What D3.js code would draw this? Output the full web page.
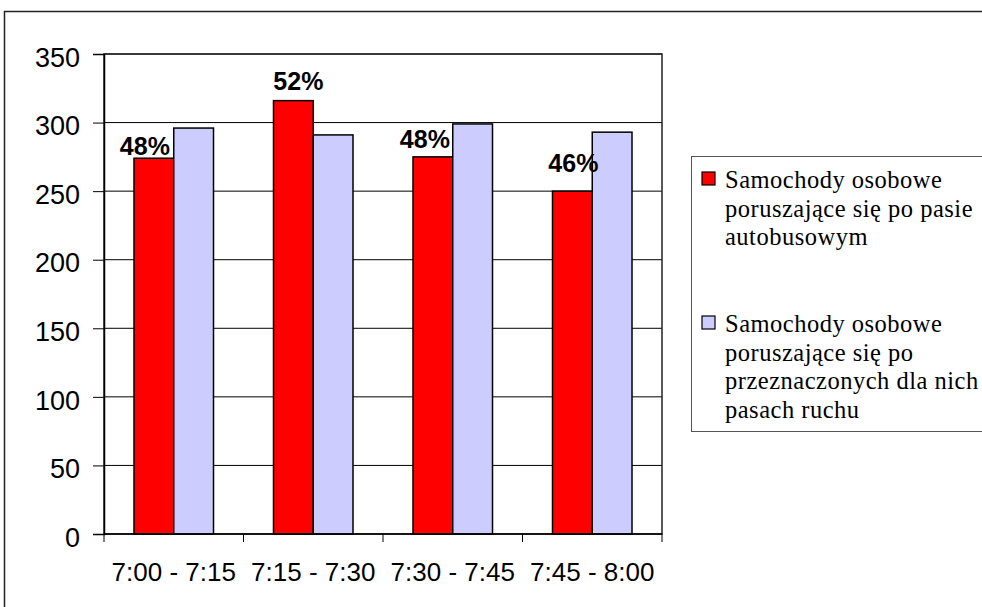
<!DOCTYPE html>
<html>
<head>
<meta charset="utf-8">
<script src="https://cdn.jsdelivr.net/npm/d3@7"></script>
<style>
  body { margin: 0; background: #fff; }
  svg { display: block; }
</style>
</head>
<body>
<div id="chart"></div>
<script>
/* DATA */
const categories = ["7:00 - 7:15", "7:15 - 7:30", "7:30 - 7:45", "7:45 - 8:00"];
const busLane = [274, 316, 275, 250];      // cars on the bus lane
const ownLanes = [296, 291, 299, 293];     // cars on their own lanes
const yTicks = [0, 50, 100, 150, 200, 250, 300, 350];
const seriesNames = [
  ["Samochody osobowe", "poruszające się po pasie", "autobusowym"],
  ["Samochody osobowe", "poruszające się po", "przeznaczonych dla nich", "pasach ruchu"]
];

/* LAYOUT */
const width = 982,
  height = 607,
  plot = { left: 104, right: 662, top: 54, bottom: 534 },
  colors = ["#ff0000", "#ccccff"];

// hand nudges for the percent labels (Excel moved them around)
const labelShift = [[-9, -3], [5, -11], [-8, -9], [1, -19]];

const svg = d3.select("#chart")
  .append("svg")
  .attr("width", width)
  .attr("height", height);

// outer chart border
svg.append("rect")
  .attr("x", 4.5).attr("y", 11.5)
  .attr("width", 1000).attr("height", 700)
  .attr("fill", "#fff")
  .attr("stroke", "#222")
  .attr("stroke-width", 1.5);

const xScale = d3.scaleBand()
  .domain(categories)
  .range([plot.left, plot.right])
  .paddingInner(0.43)
  .paddingOuter(0.215);

const xSub = d3.scaleBand()
  .domain([0, 1])
  .range([0, xScale.bandwidth()]);

const yScale = d3.scaleLinear()
  .domain([0, 350])
  .range([plot.bottom, plot.top]);

// gridlines
svg.append("g")
  .selectAll("line")
  .data(yTicks.slice(1))
  .join("line")
  .attr("x1", plot.left).attr("x2", plot.right)
  .attr("y1", d => yScale(d)).attr("y2", d => yScale(d))
  .attr("stroke", "#000")
  .attr("stroke-width", 1);

// plot area frame
svg.append("rect")
  .attr("x", plot.left).attr("y", plot.top)
  .attr("width", plot.right - plot.left)
  .attr("height", plot.bottom - plot.top)
  .attr("fill", "none")
  .attr("stroke", "#222")
  .attr("stroke-width", 1.5);

// y axis
const yAxis = d3.axisLeft(yScale)
  .tickValues(yTicks)
  .tickSize(11)
  .tickPadding(13);

svg.append("g")
  .attr("class", "y-axis")
  .attr("transform", `translate(${plot.left},0)`)
  .call(yAxis)
  .call(g => g.select(".domain").attr("stroke", "#000").attr("stroke-width", 1.5))
  .call(g => g.selectAll(".tick line").attr("stroke", "#000"))
  .call(g => g.selectAll("text")
    .attr("font-family", "Liberation Sans, Arial, sans-serif")
    .attr("font-size", 27)
    .attr("fill", "#000")
    .attr("dy", "0.45em"));

// bars
const groups = svg.append("g")
  .selectAll("g")
  .data(categories.map((c, i) => ({ cat: c, values: [busLane[i], ownLanes[i]] })))
  .join("g")
  .attr("transform", d => `translate(${xScale(d.cat)},0)`);

groups.selectAll("rect")
  .data(d => d.values.map((v, j) => ({ v, j })))
  .join("rect")
  .attr("x", d => xSub(d.j))
  .attr("y", d => yScale(d.v))
  .attr("width", xSub.bandwidth())
  .attr("height", d => yScale(0) - yScale(d.v))
  .attr("fill", d => colors[d.j])
  .attr("stroke", "#000")
  .attr("stroke-width", 1.5);

// x axis
const catEdges = categories.map(c => xScale(c) - xScale.step() * xScale.paddingOuter())
  .concat([plot.right]);

svg.append("line")
  .attr("x1", plot.left).attr("x2", plot.right)
  .attr("y1", plot.bottom).attr("y2", plot.bottom)
  .attr("stroke", "#000")
  .attr("stroke-width", 1.5);

svg.append("g")
  .selectAll("line")
  .data(catEdges)
  .join("line")
  .attr("x1", d => d).attr("x2", d => d)
  .attr("y1", plot.bottom).attr("y2", plot.bottom + 8)
  .attr("stroke", "#000");

svg.append("g")
  .selectAll("text")
  .data(categories)
  .join("text")
  .attr("x", d => xScale(d) + xScale.bandwidth() / 2)
  .attr("y", 581)
  .attr("text-anchor", "middle")
  .attr("font-family", "Liberation Sans, Arial, sans-serif")
  .attr("font-size", 26)
  .attr("fill", "#000")
  .text(d => d);

// percent share of bus-lane cars
const formatPercent = d3.format(".0%");
svg.append("g")
  .selectAll("text")
  .data(categories)
  .join("text")
  .attr("x", (d, i) => xScale(d) + xSub(0) + xSub.bandwidth() / 2 + labelShift[i][0])
  .attr("y", (d, i) => yScale(busLane[i]) + labelShift[i][1])
  .attr("text-anchor", "middle")
  .attr("font-family", "Liberation Sans, Arial, sans-serif")
  .attr("font-weight", "bold")
  .attr("font-size", 25)
  .attr("fill", "#000")
  .text((d, i) => formatPercent(busLane[i] / (busLane[i] + ownLanes[i])));

// legend
const legend = svg.append("g");
legend.append("rect")
  .attr("x", 691.5).attr("y", 156.5)
  .attr("width", 400).attr("height", 275)
  .attr("fill", "#fff")
  .attr("stroke", "#555")
  .attr("stroke-width", 1);

const legendTop = [188, 332];
seriesNames.forEach((lines, i) => {
  legend.append("rect")
    .attr("x", 702).attr("y", legendTop[i] - 16)
    .attr("width", 13).attr("height", 13)
    .attr("fill", colors[i])
    .attr("stroke", "#000")
    .attr("stroke-width", 1.2);
  legend.append("text")
    .attr("font-family", "Liberation Serif, Times New Roman, serif")
    .attr("font-size", 24.5)
    .attr("letter-spacing", 0.5)
    .attr("fill", "#000")
    .selectAll("tspan")
    .data(lines)
    .join("tspan")
    .attr("x", 725)
    .attr("y", (d, k) => legendTop[i] + k * 28.7)
    .text(d => d);
});
</script>
</body>
</html>
